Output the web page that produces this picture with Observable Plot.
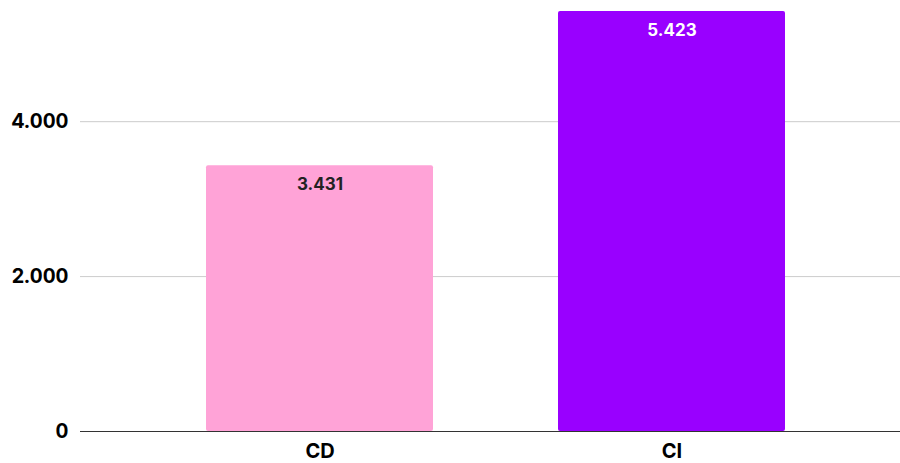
<!DOCTYPE html>
<html>
<head>
<meta charset="utf-8">
<script src="https://cdn.jsdelivr.net/npm/d3@7"></script>
<script src="https://cdn.jsdelivr.net/npm/@observablehq/plot@0.6"></script>
<style>
  html, body { margin: 0; padding: 0; background: #fff; }
  svg { font-family: Inter, Roboto, "Liberation Sans", sans-serif; }
</style>
</head>
<body>
<div id="chart"></div>
<script>
const categories = ["CD", "CI"];
const values = [3431, 5423];
const colors = ["#ffa3d7", "#9900ff"];
const labelColors = ["#222222", "#ffffff"];
const yTicks = [0, 2000, 4000];

const data = categories.map((c, i) => ({cat: c, value: values[i], color: colors[i], labelColor: labelColors[i]}));
const locale = d3.formatLocale({decimal: ",", thousands: ".", grouping: [3], currency: ["", ""]});
const fmt = locale.format(",d");

const chart = Plot.plot({
  width: 900,
  height: 463,
  marginLeft: 80,
  marginRight: 0,
  marginTop: 5,
  marginBottom: 32,
  style: {fontFamily: "Inter, Roboto, sans-serif"},
  x: {domain: categories, range: [91, 900], paddingInner: 0.354, paddingOuter: 0.323, label: null},
  y: {domain: [0, 5500], label: null},
  marks: [
    Plot.ruleY(yTicks.filter(d => d > 0), {stroke: "#cccccc", strokeWidth: 1, strokeOpacity: 1}),
    Plot.barY(data, {x: "cat", y: "value", fill: "color", rx: 2}),
    Plot.ruleY([0], {stroke: "#333333", strokeWidth: 1.2}),
    Plot.text(data, {x: "cat", y: "value", text: d => fmt(d.value), fill: "labelColor", dy: 19, fontSize: 17, fontWeight: "bold"}),
    Plot.axisY({ticks: yTicks, tickSize: 0, tickPadding: 12, tickFormat: fmt, fontSize: 20, fontWeight: "bold", color: "#000"}),
    Plot.axisX({tickSize: 0, tickPadding: 12, fontSize: 20, fontWeight: "bold", color: "#000"})
  ]
});
document.getElementById("chart").appendChild(chart);
</script>
</body>
</html>
